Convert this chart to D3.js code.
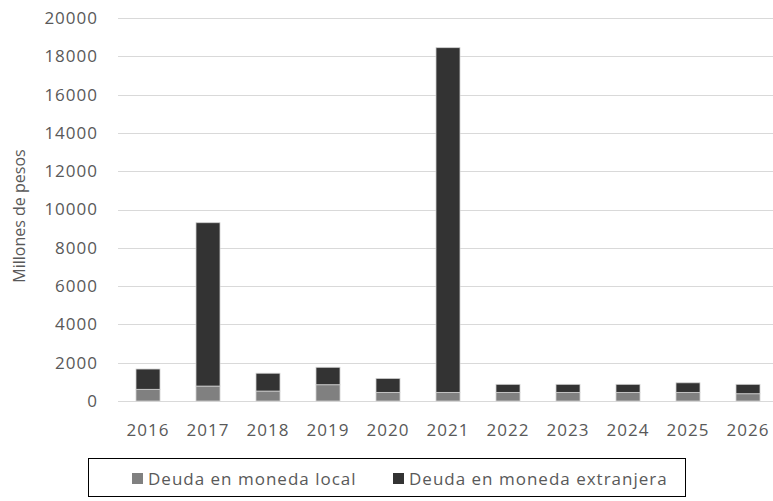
<!DOCTYPE html>
<html>
<head>
<meta charset="utf-8">
<script src="https://cdn.jsdelivr.net/npm/d3@7"></script>
<style>
  body { margin: 0; background: #fff; }
  text { font-family: "Open Sans", "Liberation Sans", sans-serif; fill: #595959; }
</style>
</head>
<body>
<div id="chart"></div>
<script>
// data (millones de pesos)
var years = ["2016", "2017", "2018", "2019", "2020", "2021", "2022", "2023", "2024", "2025", "2026"]
var local = [610, 780, 520, 850, 450, 450, 450, 450, 450, 450, 380]
var extranjera = [1060, 8530, 930, 910, 730, 18000, 420, 420, 420, 500, 490]
var yTicks = [0, 2000, 4000, 6000, 8000, 10000, 12000, 14000, 16000, 18000, 20000]
var seriesNames = ["Deuda en moneda local", "Deuda en moneda extranjera"]
var colors = ["#808080", "#333333"]

var width = 773,
    height = 501

var svg = d3.select("#chart")
  .append("svg")
    .attr("width", width)
    .attr("height", height)

var x = d3.scaleBand()
  .domain(years)
  .range([118, 778])
  .paddingInner(0.6)
  .paddingOuter(0.3)

var y = d3.scaleLinear()
  .domain([0, 20000])
  .range([401, 18])

// gridlines
svg.append("g")
  .selectAll("line")
  .data(yTicks)
  .enter()
  .append("line")
    .attr("x1", 118)
    .attr("x2", width)
    .attr("y1", d => Math.round(y(d)) + 0.5)
    .attr("y2", d => Math.round(y(d)) + 0.5)
    .attr("stroke", "#d9d9d9")
    .attr("stroke-width", 1)

// y tick labels
svg.append("g")
  .selectAll("text")
  .data(yTicks)
  .enter()
  .append("text")
    .attr("x", 98)
    .attr("y", d => y(d))
    .attr("dy", "0.35em")
    .attr("text-anchor", "end")
    .style("font-size", "17px")
    .style("letter-spacing", "1px")
    .text(d => d)

// stacked bars
var rows = years.map((yr, i) => ({ year: yr, local: local[i], extranjera: extranjera[i] }))
var stack = d3.stack().keys(["local", "extranjera"])
var layers = stack(rows)

svg.append("g")
  .selectAll("g")
  .data(layers)
  .enter()
  .append("g")
    .attr("fill", (d, i) => colors[i])
  .selectAll("rect")
  .data(d => d)
  .enter()
  .append("rect")
    .attr("x", d => x(d.data.year))
    .attr("width", x.bandwidth())
    .attr("y", d => y(d[1]))
    .attr("height", d => y(d[0]) - y(d[1]))
    .attr("stroke", "#d0d0d0")
    .attr("stroke-width", 0.8)

// x labels
svg.append("g")
  .selectAll("text")
  .data(years)
  .enter()
  .append("text")
    .attr("x", d => x(d) + x.bandwidth() / 2)
    .attr("y", 436)
    .attr("text-anchor", "middle")
    .style("font-size", "17px")
    .style("letter-spacing", "1px")
    .text(d => d)

// y axis title
svg.append("text")
  .attr("transform", "translate(25,216) rotate(-90)")
  .attr("text-anchor", "middle")
  .style("font-size", "16px")
  .text("Millones de pesos")

// legend
var legend = svg.append("g")
legend.append("rect")
  .attr("x", 88.5)
  .attr("y", 458.5)
  .attr("width", 597)
  .attr("height", 38)
  .attr("fill", "none")
  .attr("stroke", "#000")
  .attr("stroke-width", 1)

var legX = [132, 393]
seriesNames.forEach((name, i) => {
  legend.append("rect")
    .attr("x", legX[i])
    .attr("y", 473)
    .attr("width", 11)
    .attr("height", 11)
    .attr("fill", colors[i])
  legend.append("text")
    .attr("x", legX[i] + 16)
    .attr("y", 479)
    .attr("dy", "0.35em")
    .style("font-size", "17px")
    .style("letter-spacing", "1px")
    .text(name)
})
</script>
</body>
</html>
